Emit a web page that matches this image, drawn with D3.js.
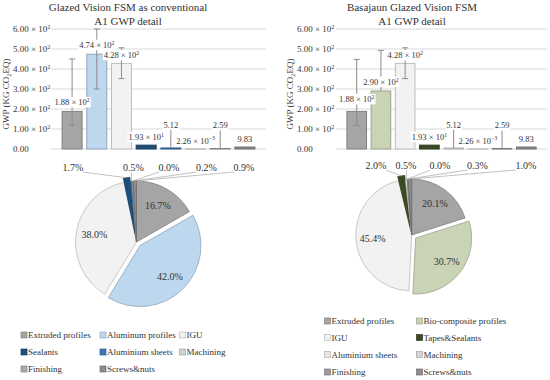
<!DOCTYPE html>
<meta charset="utf-8">
<script src="https://d3js.org/d3.v7.min.js"></script>
<style>
  body { margin: 0; background: #fff; }
  svg text { font-family: "Liberation Serif", "Times New Roman", serif; fill: #333; }
</style>
<div id="chart"></div>
<script>

// ---- data ----
var convNames = ["Extruded profiles", "Aluminum profiles", "IGU", "Sealants",
                 "Aluminium sheets", "Machining", "Finishing", "Screws&nuts"];
var basaNames = ["Extruded profiles", "Bio-composite profiles", "IGU", "Tapes&Sealants",
                 "Aluminium sheets", "Machining", "Finishing", "Screws&nuts"];

// GWP per component (kg CO2 eq)
var convValues = [188, 474, 428, 19.3, 5.12, 0.00226, 2.59, 9.83];
var basaValues = [188, 290, 428, 19.3, 5.12, 0.00226, 2.59, 9.83];

// error bar ends
var convErrLow  = [118, 300, 352, 19.3, 5.12, 0.00226, 2.59, 9.83];
var convErrHigh = [450, 600, 506, 19.3, 115, 0.00226, 115, 9.83];
var basaErrLow  = [118, 290, 352, 19.3, 5.12, 0.00226, 2.59, 9.83];
var basaErrHigh = [448, 493, 506, 19.3, 115, 0.00226, 115, 9.83];

// pie shares (%)
var convShares = [16.7, 42.0, 38.0, 1.7, 0.5, 0.0, 0.2, 0.9];
var basaShares = [20.1, 30.7, 45.4, 2.0, 0.5, 0.0, 0.3, 1.0];

var yTicks = [0, 100, 200, 300, 400, 500, 600];

var convColors = ["#a5a5a5", "#bdd7ee", "#f2f2f2", "#1f4e79", "#3a78b5", "#d0d0d0", "#a9a9a9", "#8c8c8c"];
var basaColors = ["#a5a5a5", "#c9d3b5", "#f2f2f2", "#3b4a25", "#e6e6e6", "#d4d4d4", "#9c9c9c", "#8c8c8c"];

// ---- layout ----
var width = 550, height = 380;

var svg = d3.select("#chart").append("svg")
    .attr("width", width)
    .attr("height", height);

var y = d3.scaleLinear().domain([0, 600]).range([149, 29]);

function edge(c) { return d3.color(c).darker(0.7).formatHex(); }

// 1.88 x 10^2 style numbers
function writeNumber(t, v) {
    if (v === 0) { t.text("0.00"); return; }
    if (v >= 1 && v < 10) { t.text(v.toFixed(2)); return; }
    var s = v.toExponential(2).split("e");
    var e = +s[1];
    t.append("tspan").text(s[0] + " \u00d7 10");
    t.append("tspan").attr("dy", -3.5).attr("font-size", "0.68em")
        .text(e < 0 ? "\u2212" + (-e) : e);
}

function drawBars(cfg) {
    var g = svg.append("g");

    var x = d3.scaleBand().domain(d3.range(cfg.values.length))
        .range([cfg.x0, cfg.x1])
        .paddingInner(0.19)
        .paddingOuter(0.45);

    // title
    g.selectAll(".title").data(cfg.title).enter().append("text")
        .attr("x", cfg.titleX)
        .attr("y", function(d, i) { return 11 + i * 13.5; })
        .attr("text-anchor", "middle")
        .attr("font-size", "11px")
        .text(function(d) { return d; });

    // grid
    g.selectAll(".grid").data(yTicks).enter().append("line")
        .attr("x1", cfg.x0).attr("x2", cfg.x1)
        .attr("y1", function(d) { return y(d); })
        .attr("y2", function(d) { return y(d); })
        .attr("stroke", "#d9d9d9")
        .attr("stroke-width", 1);

    g.selectAll(".tick").data(yTicks).enter().append("text")
        .attr("x", cfg.tickX)
        .attr("y", function(d) { return y(d) + 3; })
        .attr("font-size", "9px")
        .each(function(d) { writeNumber(d3.select(this), d); });

    // axis title
    var at = g.append("text")
        .attr("transform", "translate(" + cfg.axisX + ",94) rotate(-90)")
        .attr("text-anchor", "middle")
        .attr("dy", "0.35em")
        .attr("font-size", "9px");
    at.append("tspan").text("GWP (KG CO");
    at.append("tspan").attr("dy", 2).attr("font-size", "0.7em").text("2");
    at.append("tspan").attr("dy", -2).text("EQ)");

    // bars
    g.selectAll(".bar").data(cfg.values).enter().append("rect")
        .attr("x", function(d, i) { return x(i); })
        .attr("width", x.bandwidth())
        .attr("y", function(d) { return y(d); })
        .attr("height", function(d) { return y(0) - y(d); })
        .attr("fill", function(d, i) { return cfg.colors[i]; })
        .attr("stroke", function(d, i) { return edge(cfg.colors[i]); })
        .attr("stroke-width", 1);

    // error bars
    cfg.values.forEach(function(v, i) {
        var lo = cfg.low[i], hi = cfg.high[i];
        if (lo === hi) return;
        var cx = x(i) + x.bandwidth() / 2;
        g.append("line").attr("x1", cx).attr("x2", cx)
            .attr("y1", y(lo)).attr("y2", y(hi))
            .attr("stroke", "#8c8c8c").attr("stroke-width", 1);
        [lo, hi].forEach(function(e) {
            if (e === v) return;
            g.append("line").attr("x1", cx - 3).attr("x2", cx + 3)
                .attr("y1", y(e)).attr("y2", y(e))
                .attr("stroke", "#8c8c8c").attr("stroke-width", 1);
        });
    });

    // data labels with white boxes
    cfg.values.forEach(function(v, i) {
        var lg = g.append("g");
        var t = lg.append("text")
            .attr("x", x(i) + x.bandwidth() / 2)
            .attr("y", y(v) - cfg.lift[i] + 3)
            .attr("text-anchor", "middle")
            .attr("font-size", "8.5px");
        writeNumber(t, v);
        var b = t.node().getBBox();
        lg.insert("rect", "text")
            .attr("x", b.x - 1).attr("y", b.y)
            .attr("width", b.width + 2).attr("height", b.height)
            .attr("fill", "#fff");
    });
}

function drawPie(cfg) {
    var g = svg.append("g");
    var r = cfg.r;
    var arcs = d3.pie().sort(null).value(function(d) { return d; })(cfg.shares);
    var arc = d3.arc().innerRadius(0).outerRadius(r);

    function shift(d, i, k) {
        var a = (d.startAngle + d.endAngle) / 2;
        var rr = k + cfg.explode[i];
        return [cfg.cx + rr * Math.sin(a), cfg.cy - rr * Math.cos(a)];
    }

    g.selectAll(".slice").data(arcs).enter().append("path")
        .attr("d", arc)
        .attr("transform", function(d, i) {
            var p = shift(d, i, 0);
            return "translate(" + p[0] + "," + p[1] + ")";
        })
        .attr("fill", function(d, i) { return cfg.colors[i]; })
        .attr("stroke", function(d, i) { return edge(cfg.colors[i]); })
        .attr("stroke-width", 0.8);

    var small = 0;
    arcs.forEach(function(d, i) {
        var label = d.value.toFixed(1) + "%";
        if (d.value >= 5) {
            var p = shift(d, i, r * 0.7);
            g.append("text").attr("x", p[0]).attr("y", p[1])
                .attr("dy", "0.35em")
                .attr("text-anchor", "middle")
                .attr("font-size", "10px")
                .text(label);
        } else {
            var lx = cfg.smallX[small++];
            var ly = cfg.cy - r - 14;
            var end = shift(d, i, r);
            var sx = Math.max(lx - 10, Math.min(lx + 10, end[0]));
            g.append("line")
                .attr("x1", sx).attr("y1", ly + 5)
                .attr("x2", end[0]).attr("y2", end[1])
                .attr("stroke", "#a6a6a6").attr("stroke-width", 0.7);
            g.append("text").attr("x", lx).attr("y", ly)
                .attr("dy", "0.35em")
                .attr("text-anchor", "middle")
                .attr("font-size", "10px")
                .text(label);
        }
    });
}

function drawLegend(cfg) {
    var g = svg.append("g");
    cfg.names.forEach(function(n, i) {
        var col = i % cfg.cols.length, row = Math.floor(i / cfg.cols.length);
        var lx = cfg.cols[col], ly = cfg.rows[row];
        g.append("rect").attr("x", lx).attr("y", ly - 3).attr("width", 6).attr("height", 6)
            .attr("fill", cfg.colors[i])
            .attr("stroke", edge(cfg.colors[i])).attr("stroke-width", 0.7);
        g.append("text").attr("x", lx + 7).attr("y", ly)
            .attr("dy", "0.35em")
            .attr("font-size", "9px")
            .text(n);
    });
}

drawBars({
    title: ["Glazed Vision FSM as conventional", "A1 GWP detail"],
    titleX: 128, x0: 51, x1: 266, tickX: 13, axisX: 6,
    values: convValues, low: convErrLow, high: convErrHigh,
    colors: convColors, lift: [9, 9, 8, 8, 23, 8, 23, 8]
});
drawBars({
    title: ["Basajaun Glazed Vision FSM", "A1 GWP detail"],
    titleX: 412, x0: 336, x1: 547, tickX: 297, axisX: 290,
    values: basaValues, low: basaErrLow, high: basaErrHigh,
    colors: basaColors, lift: [12, 9, 8, 8, 23, 8, 23, 8]
});

drawPie({
    cx: 136.5, cy: 242, r: 61, shares: convShares, colors: convColors,
    explode: [0, 5, 0, 4, 0, 0, 0, 0],
    smallX: [73, 133.5, 169, 206.5, 244]
});
drawPie({
    cx: 411.7, cy: 235, r: 56, shares: basaShares, colors: basaColors,
    explode: [0, 5, 0, 4, 0, 0, 0, 0],
    smallX: [376, 406, 440, 477.5, 526]
});

drawLegend({ names: convNames, colors: convColors, cols: [21, 100, 179.5], rows: [335, 352, 369] });
drawLegend({ names: basaNames, colors: basaColors, cols: [324.5, 416.5], rows: [321, 337.5, 354.5, 372] });

</script>
